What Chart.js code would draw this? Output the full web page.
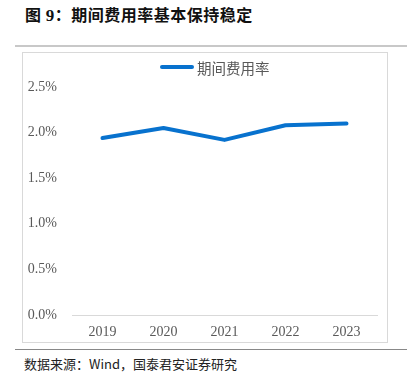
<!DOCTYPE html>
<html>
<head>
<meta charset="utf-8">
<script src="https://cdn.jsdelivr.net/npm/chart.js@4/dist/chart.umd.min.js"></script>
<style>
  html, body { margin: 0; padding: 0; background: #fff; }
  body { width: 415px; height: 383px; position: relative; overflow: hidden; }
  .title {
    position: absolute; left: 25px; top: 2px;
    font-family: "Noto Sans CJK SC", sans-serif; font-weight: 700;
    font-size: 16px; color: #111; letter-spacing: 0.5px;
  }
  .title .num { font-family: "Liberation Serif", serif; font-size: 17px; }
  .rule-top { position: absolute; left: 15px; top: 45px; width: 392px; height: 0; border-top: 2px solid #c8c8c8; }
  .box { position: absolute; left: 22px; top: 52px; width: 364px; height: 289px; border: 1px solid #d9d9d9; }
  .legend {
    position: absolute; left: 160px; top: 57px; height: 20px;
    display: flex; align-items: center;
    font-family: "Noto Sans CJK SC", sans-serif; font-size: 14.5px; color: #595959;
  }
  .legend .swatch { display: inline-block; width: 34px; height: 4px; border-radius: 2px; margin-right: 3px; }
  .rule-bottom { position: absolute; left: 15px; top: 349px; width: 392px; height: 0; border-top: 1px solid #888; }
  .source {
    position: absolute; left: 24px; top: 354px;
    font-family: "Noto Sans CJK SC", sans-serif; font-size: 13px; color: #222;
  }
</style>
</head>
<body>
<div class="title">图 <span class="num">9</span>：期间费用率基本保持稳定</div>
<div class="rule-top"></div>
<div class="box"><canvas id="c" width="364" height="289"></canvas></div>
<div class="legend" id="legend"></div>
<div class="rule-bottom"></div>
<div class="source">数据来源：Wind，国泰君安证券研究</div>

<script>
// --- data ---
const years = ['2019', '2020', '2021', '2022', '2023'];
const expenseRatio = [1.94, 2.05, 1.92, 2.08, 2.10];   // 期间费用率, %
const yTicks = [0, 0.5, 1.0, 1.5, 2.0, 2.5];

const blue = '#0872CE';
const grey = '#595959';
const serif = { family: '"Liberation Serif", "Times New Roman", serif', size: 14 };

const chart = new Chart(document.getElementById('c'), {
  type: 'line',
  data: {
    labels: years,
    datasets: [{
      label: '期间费用率',
      data: expenseRatio,
      borderColor: blue,
      backgroundColor: blue,
      borderWidth: 4,
      pointRadius: 0,
      borderJoinStyle: 'round',
      borderCapStyle: 'round',
      tension: 0,
      fill: false
    }]
  },
  options: {
    responsive: false,
    animation: false,
    layout: { padding: { top: 34, right: 10, bottom: 0, left: 0 } },
    plugins: {
      tooltip: { enabled: false },
      legend: { display: false } // legend is drawn in HTML, placed off-centre like the original
    },
    scales: {
      y: {
        min: 0,
        max: 2.5,
        afterBuildTicks: axis => { axis.ticks = yTicks.map(v => ({ value: v })); },
        afterFit: axis => { axis.width = 49; },
        grid: { display: false, drawTicks: false },
        border: { display: false },
        ticks: {
          color: grey,
          font: serif,
          padding: 15,
          callback: v => v.toFixed(1) + '%'
        }
      },
      x: {
        offset: true,
        afterFit: axis => { axis.height = 27; },
        grid: { display: false, drawTicks: false },
        border: { display: true, color: '#d9d9d9', width: 1 },
        ticks: { color: grey, font: serif, padding: 9, maxRotation: 0 }
      }
    }
  }
});

// HTML legend from the dataset
const legendEl = document.getElementById('legend');
chart.data.datasets.forEach(ds => {
  legendEl.innerHTML += `<span class="swatch" style="background:${ds.borderColor}"></span><span>${ds.label}</span>`;
});
</script>
</body>
</html>
